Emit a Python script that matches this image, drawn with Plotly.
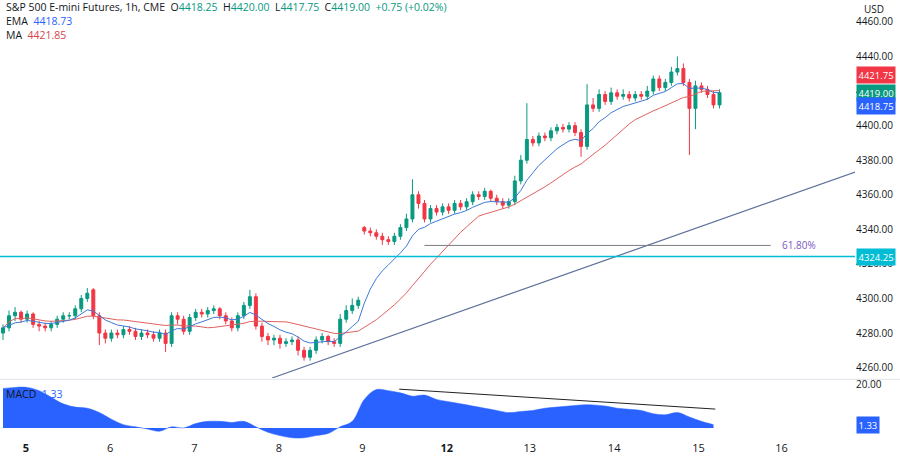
import pandas as pd
import plotly.graph_objects as go
from plotly.subplots import make_subplots

# hourly bars (bar index -> price)
opens = [4280, 4283, 4290, 4292, 4288, 4291, 4285, 4284, 4283, 4285, 4288, 4290, 4290, 4294, 4300, 4305,
         4290, 4280, 4277, 4280, 4279, 4282, 4281, 4278, 4280, 4279, 4277, 4280, 4274, 4290, 4288, 4281,
         4289, 4292, 4291, 4293, 4294, 4290, 4287, 4283, 4290, 4296, 4301, 4284, 4278, 4276, 4277, 4274,
         4275, 4276, 4270, 4266, 4270, 4276, 4278, 4275, 4274, 4288, 4293, 4296, 4341, 4339, 4338, 4336,
         4334, 4333, 4336, 4341, 4346, 4360, 4355, 4346, 4352, 4350, 4353, 4351, 4355, 4353, 4356, 4360,
         4359, 4362, 4358, 4356, 4354, 4356, 4368, 4380, 4392, 4390, 4394, 4393, 4397, 4399, 4398, 4400,
         4396, 4388, 4412, 4410, 4418, 4414, 4419, 4417, 4418, 4416, 4418, 4417, 4420, 4427, 4422, 4425,
         4431, 4433, 4425, 4410, 4423, 4421, 4418, 4412]
closes = [4283, 4290, 4292, 4288, 4291, 4285, 4284, 4283, 4285, 4288, 4290, 4290, 4294, 4300, 4303, 4290,
          4280, 4277, 4280, 4279, 4282, 4281, 4278, 4280, 4279, 4277, 4280, 4274, 4290, 4288, 4281, 4289,
          4292, 4291, 4293, 4294, 4290, 4287, 4283, 4290, 4296, 4301, 4284, 4278, 4276, 4277, 4274, 4275,
          4276, 4270, 4266, 4270, 4276, 4278, 4275, 4274, 4288, 4293, 4296, 4299, 4339, 4338, 4336, 4334,
          4333, 4336, 4341, 4346, 4360, 4355, 4346, 4352, 4350, 4353, 4351, 4355, 4353, 4356, 4360, 4359,
          4362, 4358, 4356, 4354, 4356, 4368, 4380, 4392, 4390, 4394, 4393, 4397, 4399, 4398, 4400, 4396,
          4388, 4412, 4410, 4418, 4414, 4419, 4417, 4418, 4416, 4418, 4417, 4420, 4427, 4422, 4425, 4431,
          4433, 4425, 4410, 4423, 4421, 4418, 4412, 4419]
highs = [4285, 4293, 4295, 4293, 4293, 4292, 4287, 4286, 4287, 4290, 4292, 4292, 4296, 4302, 4306, 4306,
         4292, 4282, 4282, 4282, 4284, 4284, 4283, 4282, 4282, 4281, 4282, 4282, 4292, 4292, 4290, 4291,
         4294, 4294, 4295, 4296, 4295, 4292, 4289, 4292, 4298, 4305, 4303, 4286, 4280, 4279, 4279, 4277,
         4278, 4278, 4272, 4272, 4278, 4280, 4279, 4277, 4291, 4296, 4300, 4301, 4342, 4341, 4340, 4338,
         4336, 4338, 4343, 4349, 4369, 4362, 4357, 4354, 4354, 4355, 4355, 4357, 4357, 4358, 4362, 4362,
         4364, 4363, 4360, 4358, 4358, 4371, 4383, 4413, 4394, 4396, 4396, 4399, 4401, 4401, 4402, 4402,
         4398, 4424, 4416, 4421, 4420, 4422, 4421, 4421, 4420, 4420, 4420, 4423, 4429, 4429, 4427, 4434,
         4440, 4436, 4427, 4426, 4425, 4423, 4420, 4421]
lows = [4276, 4281, 4287, 4286, 4286, 4283, 4281, 4281, 4281, 4283, 4286, 4288, 4288, 4292, 4298, 4288,
        4273, 4274, 4275, 4277, 4277, 4279, 4276, 4276, 4277, 4275, 4275, 4269, 4272, 4285, 4279, 4279,
        4287, 4289, 4289, 4291, 4288, 4285, 4281, 4281, 4288, 4294, 4282, 4275, 4273, 4273, 4271, 4272,
        4273, 4267, 4264, 4264, 4268, 4274, 4273, 4272, 4272, 4286, 4291, 4294, 4337, 4336, 4334, 4331,
        4331, 4331, 4334, 4339, 4344, 4352, 4344, 4344, 4348, 4348, 4349, 4349, 4351, 4351, 4354, 4357,
        4357, 4356, 4354, 4352, 4352, 4354, 4366, 4378, 4388, 4388, 4391, 4391, 4395, 4396, 4396, 4394,
        4382, 4386, 4408, 4408, 4412, 4412, 4415, 4415, 4414, 4414, 4415, 4415, 4418, 4420, 4420, 4423,
        4429, 4423, 4383, 4398, 4419, 4416, 4410, 4410]

macd_x = list(range(0, 120, 2))
macd = [18, 18.5, 18.5, 17, 14, 11, 9.5, 9, 7, 4, 1.5, 0.5, -0.5, -1.5, 0.5, 0, 2, 3, 3, 2.5,
        3, 0.5, -2, -3.5, -4.5, -4.5, -3.5, -2.5, 0.5, 3, 13, 17.5, 17, 16, 14.5, 15, 13, 12, 11, 10,
        9, 8, 7, 7.5, 8, 9, 9.5, 10, 10.5, 10.5, 10, 9, 8.5, 8, 6.5, 6, 7, 5, 3, 1.5]

day_pos = [3.8, 17.8, 31.8, 45.8, 59.7, 73.7, 87.5, 101.5, 115.5, 129.3]
day_labels = ["<b>5</b>", "6", "7", "8", "9", "<b>12</b>", "13", "14", "15", "16"]

trend_x = [44.7, 143]
trend_y = [4254, 4375]
macd_line_x = [65.8, 118.3]
macd_line_y = [17.7, 8.6]
fib_x = [70, 127.5]
fib_level = 4330.7
support = 4324.25

s = pd.Series(closes)
ema = s.ewm(span=9, adjust=False).mean()
ma = s.rolling(20, min_periods=1).mean()
bars = list(range(len(closes)))

fig = make_subplots(rows=2, cols=1, shared_xaxes=True)

fig.add_trace(go.Candlestick(x=bars, open=opens, high=highs, low=lows, close=closes,
                             increasing=dict(line=dict(color="#089981", width=1), fillcolor="#089981"),
                             decreasing=dict(line=dict(color="#f23645", width=1), fillcolor="#f23645"),
                             whiskerwidth=0, showlegend=False), 1, 1)
fig.add_trace(go.Scatter(x=bars, y=ma, mode="lines", line=dict(color="#e0625f", width=1), showlegend=False), 1, 1)
fig.add_trace(go.Scatter(x=bars, y=ema, mode="lines", line=dict(color="#3d79d8", width=1), showlegend=False), 1, 1)
fig.add_trace(go.Scatter(x=trend_x, y=trend_y, mode="lines", line=dict(color="#5a6f9a", width=1.2), showlegend=False), 1, 1)
fig.add_trace(go.Scatter(x=fib_x, y=[fib_level, fib_level], mode="lines", line=dict(color="#787b86", width=1), showlegend=False), 1, 1)

fig.add_trace(go.Scatter(x=macd_x, y=macd, mode="lines", fill="tozeroy", fillcolor="#2962ff",
                         line=dict(color="#2962ff", width=0.5, shape="spline"), showlegend=False), 2, 1)
fig.add_trace(go.Scatter(x=macd_line_x, y=macd_line_y, mode="lines", line=dict(color="#222222", width=1), showlegend=False), 2, 1)

fig.add_hline(y=support, line=dict(color="#00bcd4", width=1.5), row=1, col=1)

fig.update_xaxes(range=[-0.5, 141.5], showgrid=False, zeroline=False, rangeslider_visible=False, automargin=False)
fig.update_xaxes(tickvals=day_pos, ticktext=day_labels, ticks="", row=2, col=1,
                 tickfont=dict(size=11, color="#131722"))
fig.update_yaxes(side="right", showgrid=False, zeroline=False, tickformat=".2f", automargin=False,
                 tickfont=dict(size=10, color="#131722"), ticks="")
fig.update_yaxes(range=[4254, 4472.7], dtick=20, domain=[0.141, 1], row=1, col=1)
fig.update_yaxes(range=[-5.5, 21.8], tickvals=[20], domain=[0, 0.136], row=2, col=1)

fig.update_layout(width=900, height=463, margin=dict(l=0, r=45, t=0, b=23, pad=0),
                  plot_bgcolor="white", paper_bgcolor="white",
                  font=dict(family="Open Sans", color="#131722"))

# separator between panels
fig.add_shape(type="line", xref="paper", yref="paper", x0=0, x1=1.06, y0=0.138, y1=0.138,
              line=dict(color="#e0e3eb", width=1))

teal = "#089981"
header = ("S&P 500 E-mini Futures, 1h, CME  O<span style='color:%s'>4418.25</span>  H<span style='color:%s'>4420.00</span>"
          "  L<span style='color:%s'>4417.75</span>  C<span style='color:%s'>4419.00</span>"
          "  <span style='color:%s'>+0.75 (+0.02%%)</span>") % (teal, teal, teal, teal, teal)
anns = [(header, 7), ("EMA  <span style='color:#2962ff'>4418.73</span>", 21),
        ("MA  <span style='color:#d9434f'>4421.85</span>", 35)]
for txt, py in anns:
    fig.add_annotation(text=txt, xref="paper", yref="paper", x=0.005, y=1 - py / 440,
                       xanchor="left", yanchor="middle", showarrow=False, font=dict(size=10.5, color="#131722"))
fig.add_annotation(text="MACD  <span style='color:#2962ff'>1.33</span>", xref="paper", yref="paper", x=0.005, y=0.125,
                   xanchor="left", yanchor="top", showarrow=False, font=dict(size=10.5, color="#131722"))
fig.add_annotation(text="61.80%", x=129, y=fib_level, xref="x", yref="y", xanchor="left", showarrow=False,
                   font=dict(size=10, color="#7e57c2"))
fig.add_annotation(text="USD", xref="paper", yref="paper", x=1.008, y=1.0, xanchor="left", yanchor="top",
                   showarrow=False, font=dict(size=10, color="#131722"))

tags = [(4421.75, "#f23645", "y"), (4419.00, "#089981", "y"), (4418.75, "#2962ff", "y"),
        (support, "#00bcd4", "y"), (1.33, "#2962ff", "y2")]
offs = [13, 0, -13, 0, 0]
for (v, c, yr), o in zip(tags, offs):
    fig.add_annotation(text="%.2f" % v, xref="paper", yref=yr, x=1.0, y=v, yshift=o, xshift=1, xanchor="left",
                       showarrow=False, bgcolor=c, font=dict(size=9.5, color="white"), borderpad=1.5)

fig.write_html("out.html", config={"displayModeBar": False},
               post_script="document.body.style.margin='0px';")
